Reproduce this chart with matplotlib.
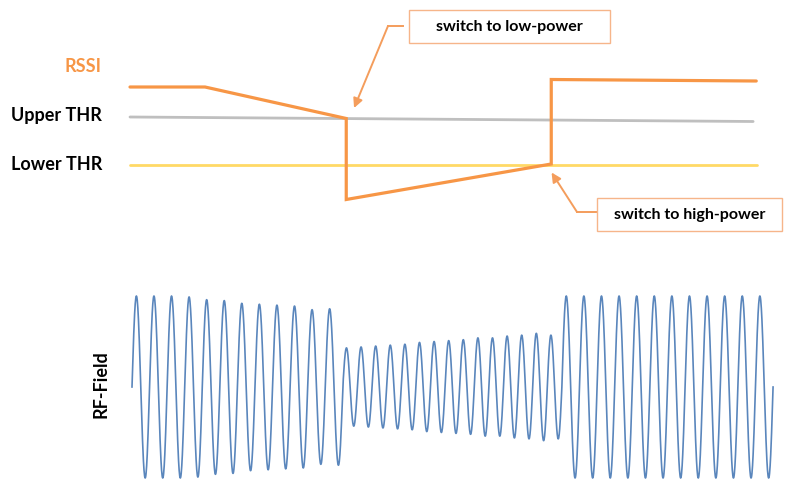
import matplotlib
matplotlib.use("Agg")
import matplotlib.pyplot as plt
import numpy as np
from matplotlib.patches import Rectangle

# --- data (time in ms, RSSI in arbitrary dB units) ---
rssi_t = [0, 12, 34.6, 34.6, 67.4, 67.4, 100.2]
rssi_level = [10.0, 10.0, 6.85, -1.25, 2.3, 10.75, 10.6]

upper_thr_t = [0, 99.7]
upper_thr_level = [7.0, 6.55]
lower_thr_t = [0, 100.3]
lower_thr_level = [2.2, 2.2]

# RF field: three power segments, peak amplitude of every carrier cycle
rf_seg_start = [0.32, 34.05, 69.1]
rf_seg_end = [34.05, 69.1, 102.89]
rf_amp_high1 = [1.0, 1.0, 1.0, 0.99, 0.96, 0.95, 0.92, 0.91, 0.90, 0.89, 0.85, 0.86]
rf_amp_low = [0.43, 0.44, 0.45, 0.46, 0.47, 0.49, 0.50, 0.51, 0.52, 0.54, 0.54,
              0.56, 0.57, 0.59, 0.57]
rf_amp_high2 = [1.0] * 12
rf_amps = [rf_amp_high1, rf_amp_low, rf_amp_high2]

W, H = 787, 480
ORANGE = "#F79646"
ARROW = "#F49D5C"
BOX = "#F6B58A"
GRAY = "#BFBFBF"
YELLOW = "#FFD966"
BLUE = "#5A86BC"
FONT = "Lato"


def fx(x):
    return x / W


def fy(y):
    return 1 - y / H


fig = plt.figure(figsize=(W / 100, H / 100), dpi=100)

# top panel: RSSI and thresholds
ax = fig.add_axes([0, 0, 1, 1])
ax.set_xlim(-20.8, 105.12)
ax.set_ylim(-29.3, 18.7)
ax.axis("off")

ax.plot(upper_thr_t, upper_thr_level, color=GRAY, lw=2.0, solid_capstyle="round")
ax.plot(lower_thr_t, lower_thr_level, color=YELLOW, lw=2.0, solid_capstyle="round")
ax.plot(rssi_t, rssi_level, color=ORANGE, lw=2.3, solid_capstyle="round",
        solid_joinstyle="miter")

fig.text(fx(102), fy(67), "RSSI", color=ORANGE, fontsize=13, fontweight="bold",
         family=FONT, ha="right", va="center")
fig.text(fx(102), fy(116), "Upper THR", color="black", fontsize=13, fontweight="bold",
         family=FONT, ha="right", va="center")
fig.text(fx(102), fy(165), "Lower THR", color="black", fontsize=13, fontweight="bold",
         family=FONT, ha="right", va="center")

# annotation boxes
for (x0, y0, x1, y1), label in [((409, 10, 610, 43), "switch to low-power"),
                                ((597, 198, 782, 231), "switch to high-power")]:
    fig.patches.append(Rectangle((fx(x0), fy(y1)), fx(x1 - x0), (y1 - y0) / H,
                                 transform=fig.transFigure, fill=False,
                                 edgecolor=BOX, lw=1.0))
    fig.text(fx((x0 + x1) / 2), fy((y0 + y1) / 2), label, fontsize=11.5,
             fontweight="bold", family=FONT, ha="center", va="center")

# arrows: short horizontal arm from the box, then diagonal to the switch point
ax.plot([fx(388), fx(403)], [fy(26), fy(26)], transform=fig.transFigure,
        color=ARROW, lw=1.4)
ax.annotate("", xy=(rssi_t[2] + 1.25, upper_thr_level[0] + 0.9),
            xytext=(fx(388), fy(26)), textcoords="figure fraction",
            arrowprops=dict(arrowstyle="-|>", color=ARROW, lw=1.4,
                            mutation_scale=14, shrinkA=0, shrinkB=0))
ax.plot([fx(577), fx(597)], [fy(212), fy(212)], transform=fig.transFigure,
        color=ARROW, lw=1.4)
ax.annotate("", xy=(rssi_t[4] + 0.05, lower_thr_level[0] - 0.75),
            xytext=(fx(577), fy(212)), textcoords="figure fraction",
            arrowprops=dict(arrowstyle="-|>", color=ARROW, lw=1.4,
                            mutation_scale=14, shrinkA=0, shrinkB=0))

# bottom panel: RF field
ax_rf = fig.add_axes([0, 0, 1, 1])
ax_rf.set_xlim(-20.8, 105.12)
ax_rf.set_ylim(-1.022, 4.253)
ax_rf.axis("off")

ts, ys = [], []
for t0, t1, amps in zip(rf_seg_start, rf_seg_end, rf_amps):
    period = (t1 - t0) / len(amps)
    for k, a in enumerate(amps):
        tt = np.linspace(0, period, 60, endpoint=False)
        ts.append(t0 + k * period + tt)
        ys.append(a * np.sin(2 * np.pi * tt / period))
ts.append([rf_seg_end[-1]])
ys.append([0.0])
ax_rf.plot(np.concatenate(ts), np.concatenate(ys), color=BLUE, lw=1.2)

fig.text(fx(101), fy(384), "RF-Field", color="black", fontsize=13, fontweight="bold",
         family=FONT, rotation=90, ha="center", va="center")

fig.savefig("out.png", dpi=100)
